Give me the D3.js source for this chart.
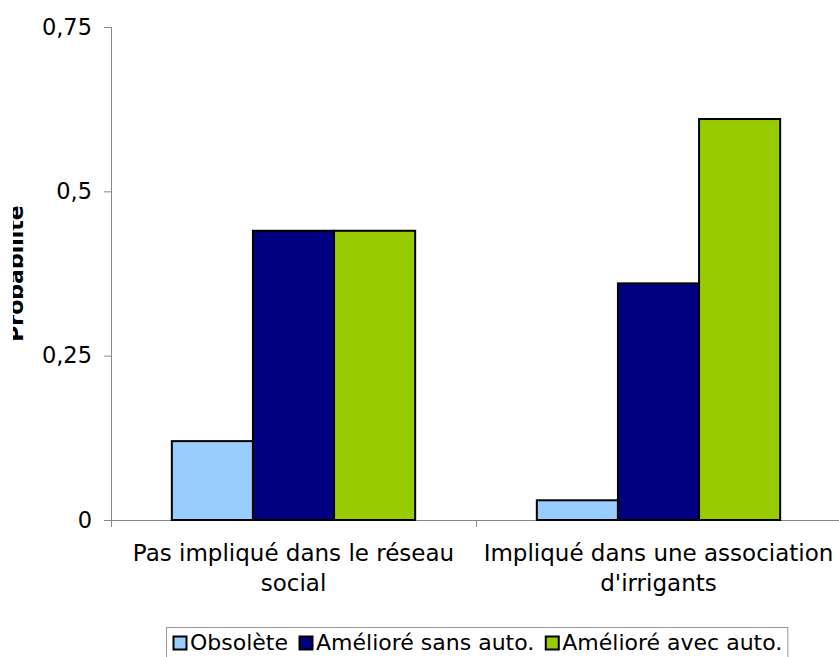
<!DOCTYPE html>
<html>
<head>
<meta charset="utf-8">
<script src="https://cdn.jsdelivr.net/npm/d3@7"></script>
<style>
  html, body { margin: 0; padding: 0; background: #fff; }
  svg { display: block; font-family: "DejaVu Sans", sans-serif; }
</style>
</head>
<body>
<svg id="chart" width="839" height="657"></svg>
<script>
const categories = [["Pas impliqué dans le réseau", "social"], ["Impliqué dans une association", "d'irrigants"]];
const categoryKeys = ["Pas impliqué dans le réseau social", "Impliqué dans une association d'irrigants"];
const seriesNames = ["Obsolète", "Amélioré sans auto.", "Amélioré avec auto."];
const obsolete = [0.12, 0.03];
const amelioreSans = [0.44, 0.36];
const ameliorAvec = [0.44, 0.61];
const seriesColors = ["#99CCFF", "#000080", "#99CC00"];
const yTicks = [0, 0.25, 0.5, 0.75];
const yTickLabels = ["0", "0,25", "0,5", "0,75"];
const yTitle = "Probabilité";

const values = [obsolete, amelioreSans, ameliorAvec];
const svg = d3.select("#chart");
const pLeft = 111, pRight = 841, pTop = 27, pBottom = 520;

const x0 = d3.scaleBand().domain(categoryKeys).range([pLeft, pRight]).paddingInner(0).paddingOuter(0);
const x1 = d3.scaleBand().domain(seriesNames).range([0, x0.bandwidth()]).paddingInner(0).paddingOuter(0.75);
const y = d3.scaleLinear().domain([0, 0.75]).range([pBottom, pTop]);

const axisColor = "#888";

// Y axis
const yAxis = svg.append("g").attr("transform", `translate(${pLeft},0)`)
  .call(d3.axisLeft(y).tickValues(yTicks).tickFormat((d, i) => yTickLabels[i]).tickSize(7).tickPadding(12));
yAxis.select(".domain").remove();
yAxis.selectAll(".tick line").attr("stroke", axisColor);
yAxis.selectAll(".tick text").attr("font-size", 22.5).attr("fill", "#000").attr("font-family", "DejaVu Sans");
svg.append("line").attr("x1", pLeft + 0.5).attr("x2", pLeft + 0.5).attr("y1", pTop).attr("y2", pBottom + 7)
  .attr("stroke", axisColor);

// X axis
svg.append("line").attr("x1", pLeft).attr("x2", pRight).attr("y1", pBottom + 0.5).attr("y2", pBottom + 0.5)
  .attr("stroke", axisColor);
const bounds = categoryKeys.map(c => x0(c)).concat([pRight]);
svg.selectAll(".xtick").data(bounds).enter().append("line")
  .attr("x1", d => Math.round(d) + 0.5).attr("x2", d => Math.round(d) + 0.5)
  .attr("y1", pBottom).attr("y2", pBottom + 7).attr("stroke", axisColor);

// Bars
categoryKeys.forEach((c, ci) => {
  const g = svg.append("g").attr("transform", `translate(${x0(c)},0)`);
  seriesNames.forEach((s, si) => {
    const v = values[si][ci];
    g.append("rect")
      .attr("x", x1(s))
      .attr("y", y(v))
      .attr("width", x1.bandwidth())
      .attr("height", y(0) - y(v))
      .attr("fill", seriesColors[si])
      .attr("stroke", "#000")
      .attr("stroke-width", 2);
  });
});

// Category labels
categoryKeys.forEach((c, ci) => {
  const cx = x0(c) + x0.bandwidth() / 2;
  const t = svg.append("text").attr("text-anchor", "middle").attr("font-size", 23).attr("fill", "#000");
  categories[ci].forEach((line, li) => {
    t.append("tspan").attr("x", cx).attr("y", 561 + li * 30).text(line);
  });
});

// Y title (clipped at left as in original)
svg.append("defs").append("clipPath").attr("id", "ytclip")
  .append("rect").attr("x", 13).attr("y", 0).attr("width", 100).attr("height", 657);
svg.append("g").attr("clip-path", "url(#ytclip)")
  .append("text")
  .attr("transform", `translate(23,${(pTop + pBottom) / 2}) rotate(-90)`)
  .attr("text-anchor", "middle")
  .attr("font-size", 22).attr("font-weight", "bold").attr("fill", "#000")
  .text(yTitle);

// Legend
const lg = svg.append("g");
const lgBox = lg.append("rect").attr("fill", "#fff").attr("stroke", "#999").attr("stroke-width", 1);
let lx = 173;
seriesNames.forEach((s, si) => {
  lg.append("rect").attr("x", lx + 0.5).attr("y", 636.5).attr("width", 13).attr("height", 13)
    .attr("fill", seriesColors[si]).attr("stroke", "#000").attr("stroke-width", 2);
  const t = lg.append("text").attr("x", lx + 17).attr("y", 650).attr("font-size", 22).attr("fill", "#000").text(s);
  lx = lx + 17 + t.node().getComputedTextLength() + 11;
});
lgBox.attr("x", 166.5).attr("y", 627.5).attr("width", lx - 11 + 5 - 166).attr("height", 40);
</script>
</body>
</html>
